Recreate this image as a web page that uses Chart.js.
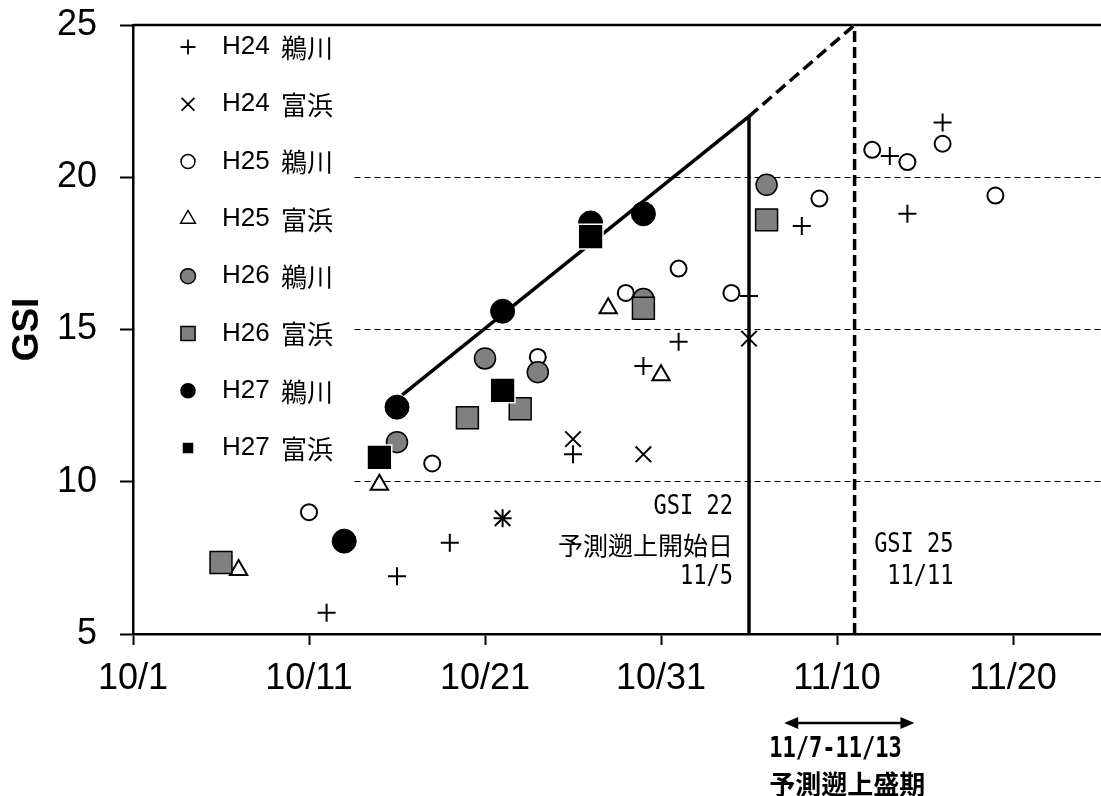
<!DOCTYPE html>
<html lang="ja">
<head>
<meta charset="utf-8">
<title>GSI</title>
<script src="https://cdn.jsdelivr.net/npm/chart.js@4.4.0/dist/chart.umd.min.js"></script>
<style>
  html, body { margin: 0; padding: 0; background: #fff; overflow: hidden; }
  canvas { display: block; }
</style>
</head>
<body>
<canvas id="gsi-chart" width="1101" height="796"></canvas>
<script>
// --- Data: [date (M/D), GSI] ---
const xTickLabels = ['10/1', '10/11', '10/21', '10/31', '11/10', '11/20'];

const h24Ugawa = [['10/12', 5.7], ['10/16', 6.9], ['10/19', 8.0], ['10/22', 8.8], ['10/26', 10.9], ['10/30', 13.8],
                  ['11/1', 14.6], ['11/5', 16.1], ['11/8', 18.4], ['11/13', 20.7], ['11/14', 18.8], ['11/16', 21.8]];
const h24Tomihama = [['10/22', 8.8], ['10/26', 11.4], ['10/30', 10.9], ['11/5', 14.7]];
const h25Ugawa = [['10/11', 9.0], ['10/18', 10.6], ['10/24', 14.1], ['10/29', 16.2], ['11/1', 17.0], ['11/4', 16.2],
                  ['11/9', 19.3], ['11/12', 20.9], ['11/14', 20.5], ['11/16', 21.1], ['11/19', 19.4]];
const h25Tomihama = [['10/7', 7.1], ['10/15', 9.9], ['10/28', 15.7], ['10/31', 13.5]];
const h26Ugawa = [['10/16', 11.3], ['10/21', 14.05], ['10/24', 13.6], ['10/30', 16.0], ['11/6', 19.75]];
const h26Tomihama = [['10/6', 7.35], ['10/20', 12.1], ['10/23', 12.4], ['10/30', 15.7], ['11/6', 18.6]];
const h27Ugawa = [['10/13', 8.05], ['10/16', 12.45], ['10/22', 15.6], ['10/27', 18.5], ['10/30', 18.8]];
const h27Tomihama = [['10/15', 10.8], ['10/22', 13.0], ['10/27', 18.05]];

// fitted line for H27 (x = days after 10/1)
const fitLineDays = [15.3, 35];
const fitLineGsi = [12.85, 22];
const fitExtDays = [35, 41];
const fitExtGsi = [22, 25];

// predicted run start (GSI 22) and peak (GSI 25)
const startDate = '11/5', startGsi = 22;
const peakDate = '11/11', peakGsi = 25;
const peakRangeDays = [37, 44.4];

const AXIS_FONT = "'Liberation Sans', Arial, 'Noto Sans CJK JP', sans-serif";
const MONO_FONT = "'DejaVu Sans Mono', 'Noto Sans CJK JP', monospace";
const CJK_FONT = "'Noto Sans CJK JP', sans-serif";

function dayOf(md) {
    const [m, d] = md.split('/').map(Number);
    return m === 10 ? d - 1 : 30 + d;
}
const toPoints = rows => rows.map(([d, v]) => ({ x: dayOf(d), y: v }));
const pairPoints = (xs, ys) => xs.map((x, i) => ({ x: x, y: ys[i] }));

// --- Series styles (legend order) ---
const seriesDefs = [
    { label: 'H24 鵜川', rows: h24Ugawa,    style: 'cross',    r: 9,    fill: '#000',    line: '#000', bw: 2,   lr: 7.5 },
    { label: 'H24 富浜', rows: h24Tomihama, style: 'crossRot', r: 11,   fill: '#000',    line: '#000', bw: 2,   lr: 9 },
    { label: 'H25 鵜川', rows: h25Ugawa,    style: 'circle',   r: 8,    fill: '#fff',    line: '#000', bw: 2,   lr: 7 },
    { label: 'H25 富浜', rows: h25Tomihama, style: 'triangle', r: 10,   fill: '#fff',    line: '#000', bw: 2,   lr: 8.5 },
    { label: 'H26 鵜川', rows: h26Ugawa,    style: 'circle',   r: 10.5, fill: '#808080', line: '#000', bw: 1.5, lr: 7.5 },
    { label: 'H26 富浜', rows: h26Tomihama, style: 'rect',     r: 15.5, fill: '#808080', line: '#000', bw: 1.5, lr: 10 },
    { label: 'H27 鵜川', rows: h27Ugawa,    style: 'circle',   r: 12,   fill: '#000',    line: '#000', bw: 1,   lr: 7 },
    { label: 'H27 富浜', rows: h27Tomihama, style: 'rect',     r: 17.5, fill: '#000',    line: '#fff', bw: 1.5, lr: 8.5 }
];

const datasets = seriesDefs.map((s, i) => ({
    label: s.label,
    data: toPoints(s.rows),
    pointStyle: s.style,
    pointRadius: s.r,
    pointHoverRadius: s.r,
    pointBackgroundColor: s.fill,
    pointBorderColor: s.line,
    pointBorderWidth: s.bw,
    showLine: false,
    order: 20 - i
}));

const lineBase = { pointRadius: 0, showLine: true, borderColor: '#000', borderWidth: 3.5, borderCapStyle: 'butt', fill: false, order: 40 };
datasets.push(
    { ...lineBase, label: 'fit', data: pairPoints(fitLineDays, fitLineGsi) },
    { ...lineBase, label: 'fitExt', data: pairPoints(fitExtDays, fitExtGsi), borderDash: [12, 6] },
    { ...lineBase, label: 'start', data: [{ x: dayOf(startDate), y: 5 }, { x: dayOf(startDate), y: startGsi }] },
    { ...lineBase, label: 'peak', data: [{ x: dayOf(peakDate), y: 5 }, { x: dayOf(peakDate), y: peakGsi }], borderDash: [11, 5] }
);

// Latin text in a tall, narrow look (like a Gothic half-width face)
function tallText(ctx, text, x, y, font, sy) {
    ctx.save();
    ctx.translate(x, y);
    ctx.scale(1, sy);
    ctx.font = font;
    ctx.fillText(text, 0, 0);
    ctx.restore();
}

// --- Legend inside the plot (white box + markers) ---
const insideLegend = {
    id: 'insideLegend',
    beforeDatasetsDraw(chart) {
        const { ctx, chartArea } = chart;
        ctx.save();
        ctx.fillStyle = '#fff';
        ctx.fillRect(chartArea.left + 2, chartArea.top + 2, 216, 463);
        seriesDefs.forEach((s, i) => {
            const cy = chartArea.top + 22 + i * 57.3;
            const cx = chartArea.left + 55;
            ctx.fillStyle = s.fill;
            ctx.strokeStyle = s.line;
            ctx.lineWidth = s.style === 'cross' || s.style === 'crossRot' ? 1.8 : 1.5;
            if (Chart.helpers && Chart.helpers.drawPoint) {
                Chart.helpers.drawPoint(ctx, { pointStyle: s.style, radius: s.lr, borderWidth: ctx.lineWidth, rotation: 0 }, cx, cy);
            }
            const [year, site] = s.label.split(' ');
            ctx.fillStyle = '#000';
            ctx.textAlign = 'left';
            ctx.textBaseline = 'middle';
            ctx.font = "26px " + AXIS_FONT;
            ctx.fillText(year, chartArea.left + 89, cy);
            ctx.font = "26px " + CJK_FONT;
            ctx.fillText(site, chartArea.left + 148, cy + 1);
        });
        ctx.restore();
    }
};

// --- Frame line, text notes and the arrow ---
const notes = {
    id: 'notes',
    afterDraw(chart) {
        const { ctx, chartArea, scales: { x, y } } = chart;
        ctx.save();
        // top frame line
        ctx.strokeStyle = '#000';
        ctx.lineWidth = 2.5;
        ctx.beginPath();
        ctx.moveTo(chartArea.left, y.getPixelForValue(25));
        ctx.lineTo(chartArea.right, y.getPixelForValue(25));
        ctx.stroke();

        ctx.fillStyle = '#000';
        ctx.textBaseline = 'middle';
        ctx.textAlign = 'right';
        const mono = "22px " + MONO_FONT;
        const sx = x.getPixelForValue(dayOf(startDate)) - 16;
        tallText(ctx, 'GSI 22', sx, y.getPixelForValue(9.18), mono, 1.2);
        ctx.font = "25px " + CJK_FONT;
        ctx.fillText('予測遡上開始日', sx, y.getPixelForValue(7.92));
        tallText(ctx, '11/5', sx, y.getPixelForValue(6.88), mono, 1.2);

        const px = x.getPixelForValue(dayOf(peakDate)) + 99;
        tallText(ctx, 'GSI 25', px, y.getPixelForValue(7.92), mono, 1.2);
        tallText(ctx, '11/11', px, y.getPixelForValue(6.86), mono, 1.2);

        // double arrow below the axis
        const ay = chartArea.bottom + 89;
        const ax1 = x.getPixelForValue(peakRangeDays[0]);
        const ax2 = x.getPixelForValue(peakRangeDays[1]);
        ctx.lineWidth = 2.5;
        ctx.beginPath();
        ctx.moveTo(ax1 + 10, ay);
        ctx.lineTo(ax2 - 10, ay);
        ctx.stroke();
        ctx.beginPath();
        ctx.moveTo(ax1, ay); ctx.lineTo(ax1 + 14, ay - 6); ctx.lineTo(ax1 + 14, ay + 6); ctx.closePath();
        ctx.moveTo(ax2, ay); ctx.lineTo(ax2 - 14, ay - 6); ctx.lineTo(ax2 - 14, ay + 6); ctx.closePath();
        ctx.fill();

        ctx.textAlign = 'left';
        tallText(ctx, '11/7-11/13', ax1 - 15, chartArea.bottom + 116, "bold 22px " + MONO_FONT, 1.25);
        ctx.font = "bold 26px " + CJK_FONT;
        ctx.fillText('予測遡上盛期', ax1 - 15, chartArea.bottom + 150);
        ctx.restore();
    }
};

const gridValues = [10, 15, 20];

new Chart(document.getElementById('gsi-chart'), {
    type: 'scatter',
    data: { datasets: datasets },
    plugins: [insideLegend, notes],
    options: {
        responsive: false,
        devicePixelRatio: 1,
        animation: false,
        layout: { autoPadding: false, padding: { top: 25, right: 0, bottom: 0, left: 0 } },
        plugins: {
            legend: { display: false },
            tooltip: { enabled: false }
        },
        scales: {
            x: {
                type: 'linear',
                min: 0,
                max: 55,
                afterFit: s => { s.height = 162; s.paddingLeft = 0; s.paddingRight = 0; },
                ticks: {
                    stepSize: 10,
                    includeBounds: false,
                    autoSkip: false,
                    maxRotation: 0,
                    padding: 12,
                    color: '#000',
                    font: { family: AXIS_FONT, size: 36 },
                    callback: v => xTickLabels[v / 10] ?? ''
                },
                grid: { drawOnChartArea: false, drawTicks: true, tickLength: 11, tickWidth: 2, tickColor: '#000' },
                border: { display: true, color: '#000', width: 2.5 }
            },
            y: {
                type: 'linear',
                min: 5,
                max: 25,
                afterFit: s => { s.width = 133; s.paddingTop = 0; s.paddingBottom = 0; },
                ticks: {
                    stepSize: 5,
                    padding: 23,
                    color: '#000',
                    font: { family: AXIS_FONT, size: 36 }
                },
                grid: {
                    color: c => (c.tick && gridValues.includes(c.tick.value)) ? '#000' : 'rgba(0,0,0,0)',
                    lineWidth: 1,
                    drawTicks: true,
                    tickLength: 13,
                    tickWidth: 2,
                    tickColor: '#000'
                },
                border: { display: true, color: '#000', width: 2.5, dash: [6, 4] },
                title: {
                    display: true,
                    text: 'GSI',
                    color: '#000',
                    font: { family: AXIS_FONT, size: 37, weight: 'bold' },
                    padding: { top: 6, bottom: 0 }
                }
            }
        }
    }
});
</script>
</body>
</html>
